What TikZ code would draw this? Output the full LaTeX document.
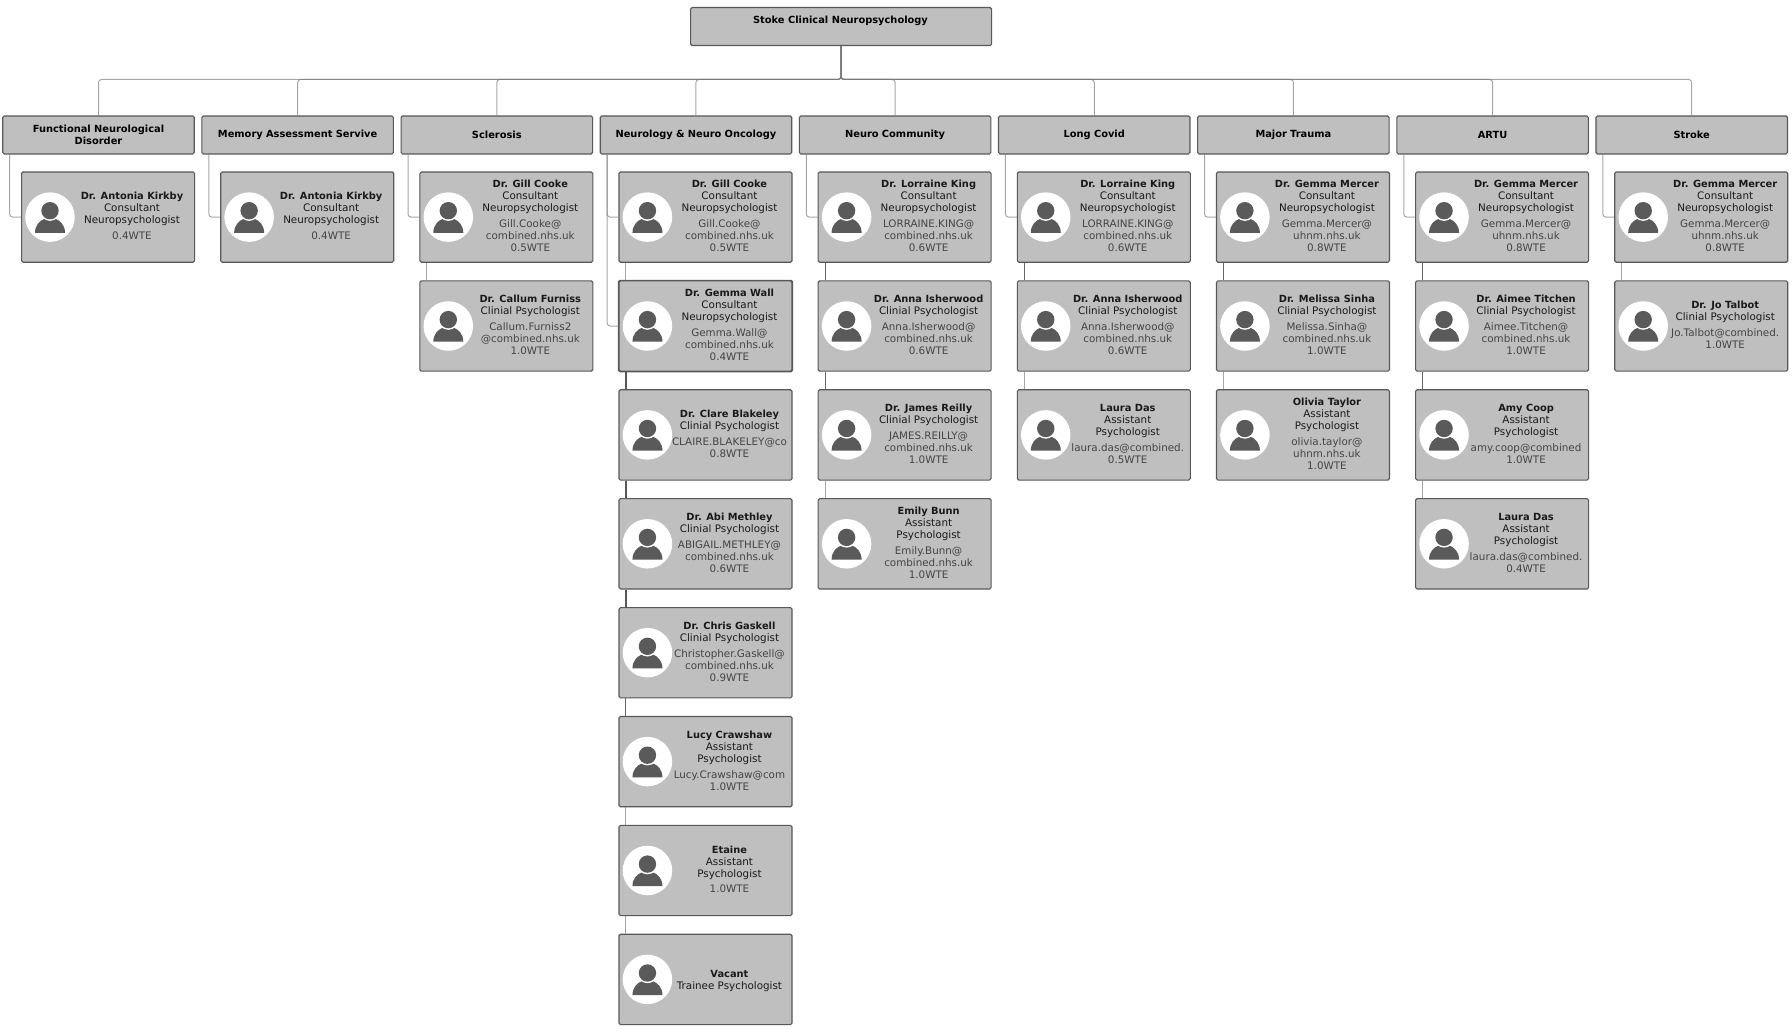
\documentclass[tikz,border=0pt]{standalone}
\usepackage{fontspec}
\setmainfont{DejaVu Sans}
\definecolor{boxfill}{HTML}{BFBFBF}
\definecolor{boxedge}{HTML}{585858}
\definecolor{icongray}{HTML}{5A5A5A}
\definecolor{mailgray}{HTML}{444444}
\definecolor{linkgray}{HTML}{777777}
\newcommand\headfont{\fontsize{9.85}{12}\selectfont\bfseries}
\newcommand\bodyfont{\fontsize{10.35}{12}\selectfont}
\tikzset{
  orgbox/.style={draw=boxedge,fill=boxfill,line width=1.1pt,rounded corners=1.5pt,inner sep=0pt,font=\headfont,align=center},
  deptbox/.style={orgbox,anchor=north west,minimum width=191.5pt,minimum height=38pt,text width=180pt},
  cardbox/.style={orgbox,anchor=north west,minimum width=173pt,minimum height=90.3pt},
  cardtext/.style={font=\bodyfont,align=center,inner sep=0pt,text=black!90},
  face/.style={circle,fill=white,minimum size=49.5pt,inner sep=0pt},
  link/.style={draw=linkgray,line width=1pt,draw opacity=.65,rounded corners=3pt},
  linkdark/.style={link,draw=boxedge,draw opacity=1,line width=1.6pt},
  linkmid/.style={link,draw=boxedge,draw opacity=.9,line width=1pt},
  avatar/.pic={
    \fill[icongray](-15,15.7)..controls(-15,8)and(-10,3.5)..(-6,2)--(6,2)..controls(10,3.5)and(15,8)..(15,15.7)--cycle;
    \fill[white](0,-6.4)circle(10.2pt);
    \fill[icongray](0,-6.4)circle(8.7pt);
  }
}
\begin{document}
\begin{tikzpicture}[x=1pt,y=-1pt]
\useasboundingbox(0,0)rectangle(1792,1033);
\node[orgbox,anchor=north west,minimum width=301pt,minimum height=38pt](root)at(690,7){};
\node[font=\headfont](roottext)at(840.5,21){Stoke Clinical Neuropsychology};
\coordinate(bus)at(root.south|-0,79.5);
% departments
\foreach\col/\dept in{0/Functional Neurological\\Disorder,1/Memory Assessment Servive,2/Sclerosis,3/Neurology \& Neuro Oncology,4/Neuro Community,5/Long Covid,6/Major Trauma,7/ARTU,8/Stroke}{
  \pgfmathsetmacro\dx{2.2+199.15*\col}
  \node[deptbox](d\col)at(\dx,115.4){\dept};
  \draw[link](root.south)--(bus)-|(d\col.north);
}
% staff cards
\foreach\col/\row/\who/\job/\mail in{
0/0/Dr. Antonia Kirkby/Consultant\\Neuropsychologist/0.4WTE,
1/0/Dr. Antonia Kirkby/Consultant\\Neuropsychologist/0.4WTE,
2/0/Dr. Gill Cooke/Consultant\\Neuropsychologist/Gill.Cooke@\\combined.nhs.uk\\0.5WTE,
2/1/Dr. Callum Furniss/Clinial Psychologist/Callum.Furniss2\\@combined.nhs.uk\\1.0WTE,
3/0/Dr. Gill Cooke/Consultant\\Neuropsychologist/Gill.Cooke@\\combined.nhs.uk\\0.5WTE,
3/1/Dr. Gemma Wall/Consultant\\Neuropsychologist/Gemma.Wall@\\combined.nhs.uk\\0.4WTE,
3/2/Dr. Clare Blakeley/Clinial Psychologist/CLAIRE.BLAKELEY@co\\0.8WTE,
3/3/Dr. Abi Methley/Clinial Psychologist/ABIGAIL.METHLEY@\\combined.nhs.uk\\0.6WTE,
3/4/Dr. Chris Gaskell/Clinial Psychologist/Christopher.Gaskell@\\combined.nhs.uk\\0.9WTE,
3/5/Lucy Crawshaw/Assistant\\Psychologist/Lucy.Crawshaw@com\\1.0WTE,
3/6/Etaine/Assistant\\Psychologist/1.0WTE,
3/7/Vacant/Trainee Psychologist/,
4/0/Dr. Lorraine King/Consultant\\Neuropsychologist/LORRAINE.KING@\\combined.nhs.uk\\0.6WTE,
4/1/Dr. Anna Isherwood/Clinial Psychologist/Anna.Isherwood@\\combined.nhs.uk\\0.6WTE,
4/2/Dr. James Reilly/Clinial Psychologist/JAMES.REILLY@\\combined.nhs.uk\\1.0WTE,
4/3/Emily Bunn/Assistant\\Psychologist/Emily.Bunn@\\combined.nhs.uk\\1.0WTE,
5/0/Dr. Lorraine King/Consultant\\Neuropsychologist/LORRAINE.KING@\\combined.nhs.uk\\0.6WTE,
5/1/Dr. Anna Isherwood/Clinial Psychologist/Anna.Isherwood@\\combined.nhs.uk\\0.6WTE,
5/2/Laura Das/Assistant\\Psychologist/laura.das@combined.\\0.5WTE,
6/0/Dr. Gemma Mercer/Consultant\\Neuropsychologist/Gemma.Mercer@\\uhnm.nhs.uk\\0.8WTE,
6/1/Dr. Melissa Sinha/Clinial Psychologist/Melissa.Sinha@\\combined.nhs.uk\\1.0WTE,
6/2/Olivia Taylor/Assistant\\Psychologist/olivia.taylor@\\uhnm.nhs.uk\\1.0WTE,
7/0/Dr. Gemma Mercer/Consultant\\Neuropsychologist/Gemma.Mercer@\\uhnm.nhs.uk\\0.8WTE,
7/1/Dr. Aimee Titchen/Clinial Psychologist/Aimee.Titchen@\\combined.nhs.uk\\1.0WTE,
7/2/Amy Coop/Assistant\\Psychologist/amy.coop@combined\\1.0WTE,
7/3/Laura Das/Assistant\\Psychologist/laura.das@combined.\\0.4WTE,
8/0/Dr. Gemma Mercer/Consultant\\Neuropsychologist/Gemma.Mercer@\\uhnm.nhs.uk\\0.8WTE,
8/1/Dr. Jo Talbot/Clinial Psychologist/Jo.Talbot@combined.\\1.0WTE}{
  \pgfmathsetmacro\cx{21+199.15*\col}\pgfmathsetmacro\cy{171.4+108.9*\row}
  \def\lift{-.6pt}\if\relax\detokenize\expandafter{\mail}\relax\def\lift{-1.3pt}\fi
  \node[cardbox](c\col-\row)at(\cx,\cy){};
  \node[face](f\col-\row)at([xshift=29pt]c\col-\row.west){};
  \pic at(f\col-\row){avatar};
  \node[cardtext](t\col-\row)at([xshift=111pt,yshift=\lift]c\col-\row.west){{\headfont\who}\\\job\if\relax\detokenize\expandafter{\mail}\relax\else\\[3.8pt]\color{mailgray}\begin{tabular}[t]{@{}c@{}}\mail\end{tabular}\fi};
}
\draw[draw=black!65,line width=1.1pt,rounded corners=1.5pt](c3-1.north west)rectangle(c3-1.south east);
% trunk from each department to its first card
\foreach\col in{0,...,8}{\draw[link]([xshift=7.5pt]d\col.south west)|-(c\col-0.west);}
\draw[link]([xshift=7.5pt]d3.south west)|-(c3-1.west);
% links down each column
\foreach\col/\row/\nxt/\sty in{2/0/1/link,3/0/1/link,3/1/2/linkdark,3/2/3/linkdark,3/3/4/linkdark,3/4/5/linkmid,3/5/6/link,3/6/7/link,4/0/1/linkmid,4/1/2/linkmid,4/2/3/link,5/0/1/linkmid,5/1/2/link,6/0/1/linkmid,6/1/2/link,7/0/1/linkmid,7/1/2/linkmid,7/2/3/link,8/0/1/link}{
  \draw[\sty]([xshift=7.5pt]c\col-\row.south west)--([xshift=7.5pt]c\col-\nxt.north west);
}
\end{tikzpicture}
\end{document}
